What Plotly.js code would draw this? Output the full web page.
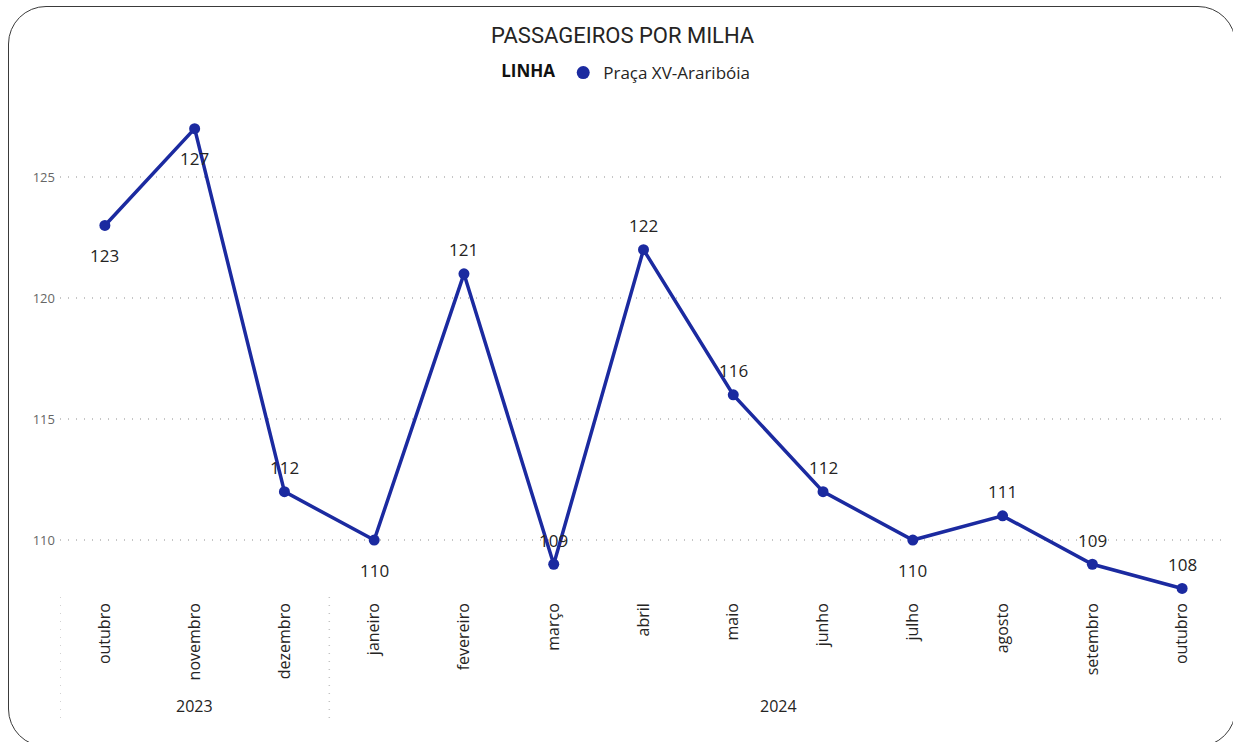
<!DOCTYPE html>
<html>
<head>
<meta charset="utf-8">
<script src="https://cdn.plot.ly/plotly-3.0.1.min.js"></script>
<style>
  html, body { margin:0; padding:0; background:#fff; overflow:hidden; }
  #frame { position:absolute; left:8px; top:6px; width:1228px; height:741px; border:1.5px solid #3a3a3a; border-radius:38px; box-sizing:border-box; }
  #chart { position:absolute; left:0; top:0; width:1233px; height:742px; }
</style>
</head>
<body>
<div id="frame"></div>
<div id="chart"></div>
<script>
const months = ["outubro","novembro","dezembro","janeiro","fevereiro","março","abril","maio","junho","julho","agosto","setembro","outubro"];
const years  = ["2023","2023","2023","2024","2024","2024","2024","2024","2024","2024","2024","2024","2024"];
const values = [123,127,112,110,121,109,122,116,112,110,111,109,108];
const labelPos = ["below","below","above","below","above","above","above","above","above","below","above","above","above"];
const seriesName = "Praça XV-Araribóia";
const legendTitle = "LINHA";
const chartTitle = "PASSAGEIROS POR MILHA";
const yTicks = [110,115,120,125];

const idx = months.map((_, i) => i);
const lineColor = "#1B2AA0";
const font = "'Open Sans', 'DejaVu Sans', sans-serif";

const annotations = values.map((v, i) => ({
  x: i, y: v, xref: "x", yref: "y",
  text: String(v), showarrow: false,
  yanchor: "middle", xanchor: "center",
  yshift: labelPos[i] === "above" ? 24 : -30,
  font: { family: font, size: 17, color: "#252423" }
}));

// year group labels and separators
const groups = [];
years.forEach((y, i) => {
  if (!groups.length || groups[groups.length - 1].year !== y) groups.push({ year: y, start: i, end: i });
  else groups[groups.length - 1].end = i;
});
groups.forEach(g => {
  annotations.push({
    x: (g.start + g.end) / 2, y: -0.222, xref: "x", yref: "paper",
    text: g.year, showarrow: false, yanchor: "middle",
    font: { family: font, size: 16, color: "#252423" }
  });
});
const shapes = groups.map(g => ({
  type: "line", xref: "x", yref: "paper",
  x0: g.start - 0.5, x1: g.start - 0.5, y0: -0.004, y1: -0.255,
  line: { color: "#c4c4c4", width: 1.5, dash: "1px,7px" }
}));

const trace = {
  type: "scatter", mode: "lines+markers",
  x: idx, y: values, name: seriesName,
  line: { color: lineColor, width: 3.5 },
  marker: { color: lineColor, size: 11 },
  showlegend: false,
  hoverinfo: "skip"
};
const legendTrace = {
  type: "scatter", mode: "markers",
  x: [null], y: [null], name: seriesName,
  marker: { color: lineColor, size: 13 },
  showlegend: true
};

const layout = {
  width: 1233, height: 742,
  paper_bgcolor: "rgba(0,0,0,0)", plot_bgcolor: "rgba(0,0,0,0)",
  margin: { l: 60, r: 6, t: 95, b: 147 },
  title: { text: chartTitle, x: 0.505, xanchor: "center", y: 0.953, yanchor: "middle",
           font: { family: "Roboto, 'DejaVu Sans', sans-serif", size: 22, color: "#252423" } },
  showlegend: true,
  legend: {
    orientation: "h", x: 0.486, xanchor: "center", y: 1.044, yanchor: "middle",
    title: { text: "<b>" + legendTitle + "</b>", side: "left", font: { family: font, size: 17, color: "#111" } },
    font: { family: font, size: 17, color: "#252423" },
    itemwidth: 30
  },
  xaxis: {
    range: [-0.5, months.length - 0.5],
    tickvals: idx, ticktext: months, tickangle: -90,
    showgrid: false, zeroline: false, showline: false, ticks: "",
    tickfont: { family: font, size: 16, color: "#252423" },
    ticklabelstandoff: 4,
    fixedrange: true
  },
  yaxis: {
    range: [107.73, 128.39],
    tickvals: yTicks,
    showgrid: true, gridcolor: "#c6c6c6", griddash: "1px,7px", gridwidth: 1.5,
    zeroline: false, showline: false, ticks: "",
    tickfont: { family: font, size: 13, color: "#666" },
    ticklabelstandoff: 4,
    fixedrange: true
  },
  annotations: annotations,
  shapes: shapes
};

Plotly.newPlot("chart", [trace, legendTrace], layout, { staticPlot: true, displayModeBar: false });
</script>
</body>
</html>
